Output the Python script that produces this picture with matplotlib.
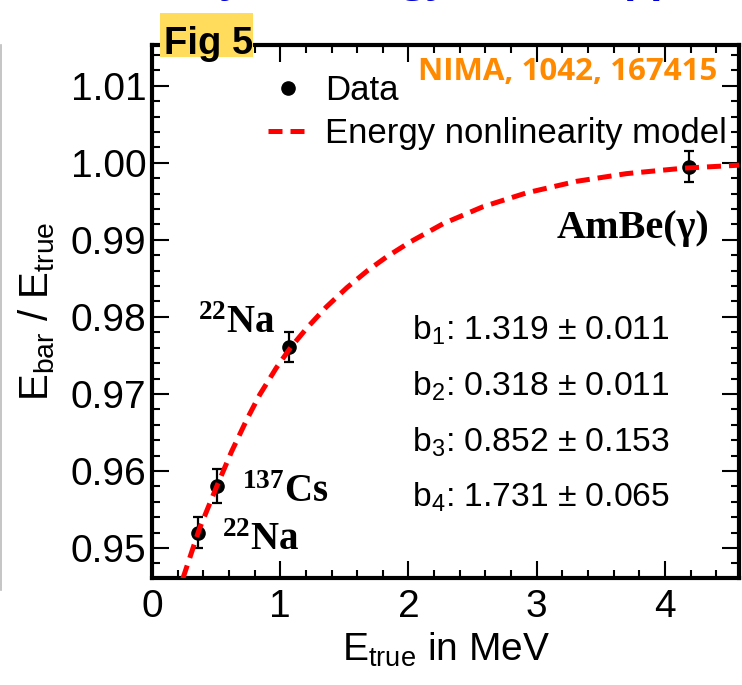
import matplotlib
matplotlib.use("Agg")
import matplotlib.pyplot as plt
from matplotlib.patches import Rectangle
from matplotlib.lines import Line2D
from matplotlib.ticker import MultipleLocator, FormatStrFormatter

plt.rcParams['font.family'] = ['Liberation Sans', 'DejaVu Sans']
plt.rcParams['mathtext.fontset'] = 'custom'
plt.rcParams['mathtext.rm'] = 'Liberation Sans'
plt.rcParams['mathtext.it'] = 'Liberation Sans:italic'
plt.rcParams['mathtext.bf'] = 'Liberation Serif:bold'

# Measured calibration points (true energy in MeV, ratio of reconstructed to true)
e_true = [0.36, 0.51, 1.07, 4.19]
ratio = [0.9520, 0.9580, 0.9761, 0.9995]
ratio_err = [0.0020, 0.0022, 0.0020, 0.0020]

# Energy nonlinearity model curve
model_e = [0.24, 0.37, 0.51, 0.62, 0.74, 0.84, 0.97, 1.08, 1.21, 1.36, 1.52,
           1.68, 1.83, 2.01, 2.27, 2.58, 2.92, 3.31, 3.70, 4.14, 4.58]
model_r = [0.9460, 0.9525, 0.9582, 0.9625, 0.9667, 0.9699, 0.9734, 0.9760,
           0.9786, 0.9813, 0.9838, 0.9860, 0.9878, 0.9897, 0.9921, 0.9943,
           0.9961, 0.9976, 0.9986, 0.9993, 0.9997]

fit_names = ["b$_{\\mathrm{1}}$", "b$_{\\mathrm{2}}$", "b$_{\\mathrm{3}}$", "b$_{\\mathrm{4}}$"]
fit_values = ["1.319", "0.318", "0.852", "1.731"]
fit_errors = ["0.011", "0.011", "0.153", "0.065"]

W, H = 742, 685
fig = plt.figure(figsize=(W / 100, H / 100), dpi=100)


def fpos(x, y):
    """Pixel position (from top-left) to figure fraction."""
    return x / W, 1 - y / H


ax = fig.add_axes([152 / W, 107 / H, 587 / W, 533 / H])
ax.set_xlim(0, 4.577)
ax.set_ylim(0.9461, 1.0153)

red = '#FF0000'
ax.plot(model_e, model_r, color=red, lw=3.6, linestyle=(0, (2.8, 1.6)),
        zorder=4, dash_capstyle='butt')
ax.errorbar(e_true, ratio, yerr=ratio_err, fmt='o', color='black', ms=9.5,
            elinewidth=1.6, capsize=3.5, capthick=1.6, zorder=3)

for s in ax.spines.values():
    s.set_linewidth(3.0)
ax.xaxis.set_major_locator(MultipleLocator(1))
ax.xaxis.set_minor_locator(MultipleLocator(0.2))
ax.yaxis.set_major_locator(MultipleLocator(0.01))
ax.yaxis.set_minor_locator(MultipleLocator(0.002))
ax.yaxis.set_major_formatter(FormatStrFormatter('%.2f'))
ax.tick_params(which='both', direction='in', top=True, right=True, width=1.5)
ax.tick_params(which='major', length=12, labelsize=28)
ax.tick_params(axis='x', which='major', pad=8)
ax.tick_params(axis='y', which='major', pad=4)
ax.tick_params(which='minor', length=6)

ax.set_xlabel("E$_{\\mathrm{true}}$ in MeV", fontsize=28, labelpad=4)
ax.set_ylabel("E$_{\\mathrm{bar}}$ / E$_{\\mathrm{true}}$", fontsize=29, labelpad=10)

data_handle = Line2D([], [], marker='o', ms=9.5, color='black', linestyle='none')
model_handle = Line2D([], [], color=red, lw=3.6, linestyle=(0, (2.8, 1.6)),
                      dash_capstyle='butt')
ax.legend([data_handle, model_handle], ['Data', 'Energy nonlinearity model'],
          loc='upper left', bbox_to_anchor=fpos(268, 74),
          bbox_transform=fig.transFigure, frameon=False, fontsize=25,
          handlelength=1.15, handletextpad=0.5, labelspacing=0.3,
          borderpad=0, borderaxespad=0)

# Source labels
fig.text(*fpos(557, 238), "AmBe(γ)", ha='left', va='baseline',
         family='Liberation Serif', weight='bold', fontsize=29)
fig.text(*fpos(198, 333), "$\\mathbf{{}^{22}Na}$", ha='left', va='baseline', fontsize=28)
fig.text(*fpos(242, 502), "$\\mathbf{{}^{137}Cs}$", ha='left', va='baseline', fontsize=28)
fig.text(*fpos(222, 550), "$\\mathbf{{}^{22}Na}$", ha='left', va='baseline', fontsize=28)

# Fit parameters
for i, (n, v, e) in enumerate(zip(fit_names, fit_values, fit_errors)):
    fig.text(*fpos(412, 340 + 55.7 * i), f"{n}: {v} ± {e}", ha='left',
             va='baseline', fontsize=24.2)

# Reference tag
fig.text(*fpos(418, 80), "NIMA, 1042, 167415", color='#FF8A00', fontsize=22.5,
         family='Open Sans', weight='bold', ha='left', va='baseline')

# Figure tag with highlight box over the frame
fig.add_artist(Rectangle(fpos(160, 57), 93 / W, 44 / H, transform=fig.transFigure,
                         facecolor='#FFDC5C', edgecolor='none', zorder=10))
fig.text(*fpos(164, 54), "Fig 5", fontsize=27.5, weight='bold',
         ha='left', va='baseline', zorder=11)

# Slide title running above the top edge
fig.text(*fpos(-20, -9), "Nonlinearity of energy scale supported by γ sources (E$_{\\mathrm{pos}}$",
         color='#0000CC', fontsize=30, weight='bold', family='Open Sans',
         ha='left', va='baseline')

# Thin slide border at the left edge
fig.add_artist(Line2D([1 / W, 1 / W], [1 - 590 / H, 1 - 45 / H],
                      transform=fig.transFigure, color='#BBBBBB', lw=1.2))

fig.savefig("out.png", dpi=100)
